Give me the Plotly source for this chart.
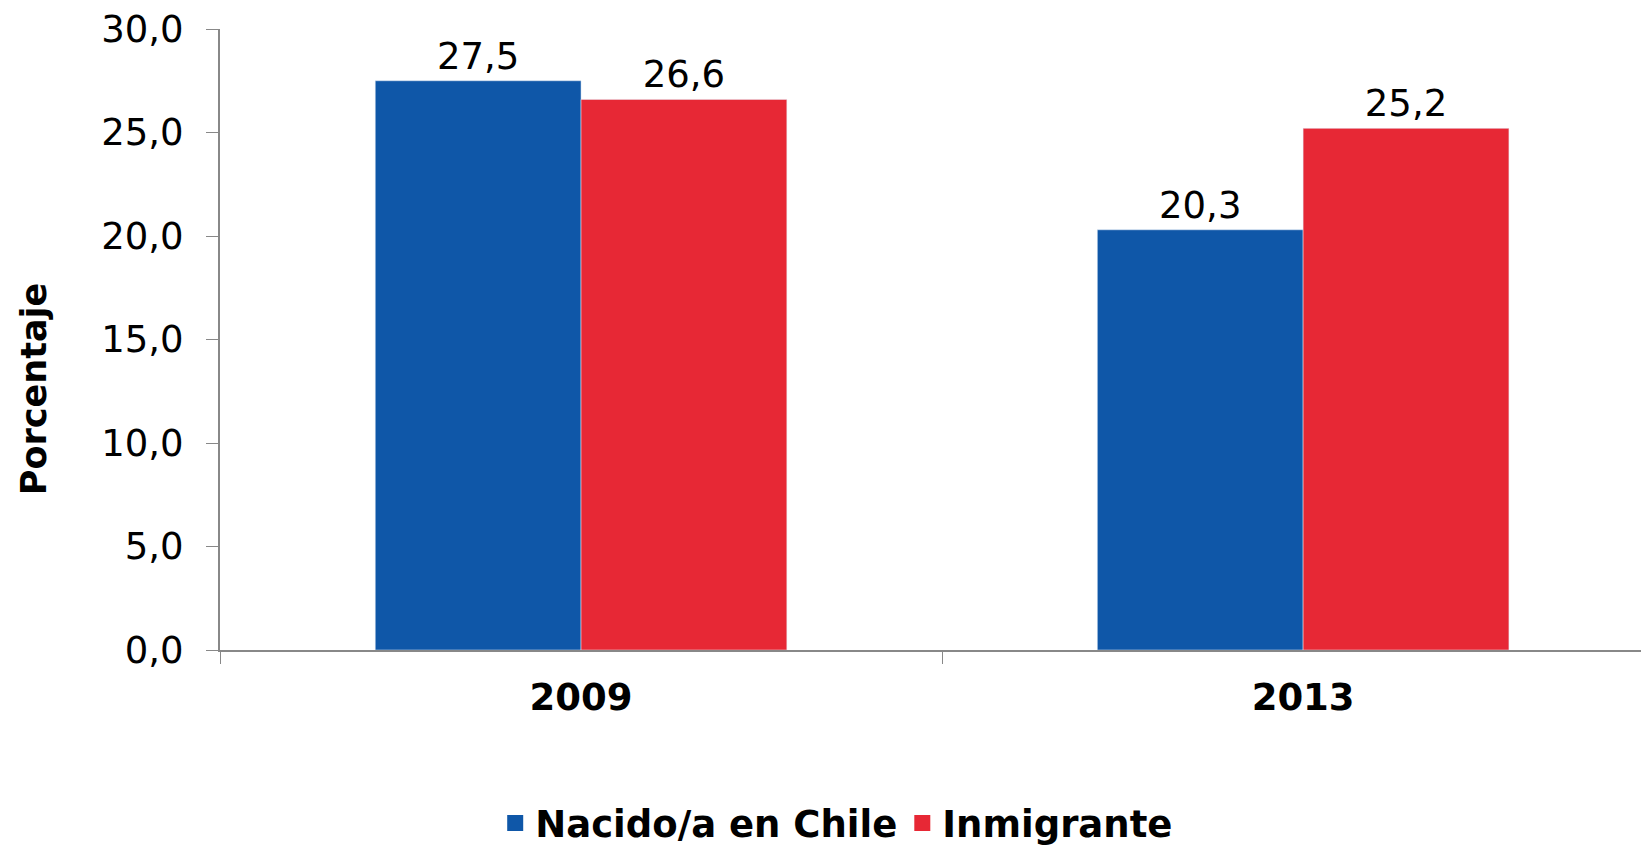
import plotly.graph_objects as go

# datos
years = ["2009", "2013"]
nacido = [27.5, 20.3]
inmigrante = [26.6, 25.2]
y_ticks = [0, 5, 10, 15, 20, 25, 30]

blue = "#0F57A8"
red = "#E72835"
font_main = "DejaVu Sans"

fig = go.Figure()
fig.add_trace(go.Bar(x=years, y=nacido, name="Nacido/a en Chile", marker_color=blue,
                     texttemplate="%{y:.1f}", textposition="outside", showlegend=False,
                     textfont=dict(size=37, color="black", family=font_main), cliponaxis=False))
fig.add_trace(go.Bar(x=years, y=inmigrante, name="Inmigrante", marker_color=red,
                     texttemplate="%{y:.1f}", textposition="outside", showlegend=False,
                     textfont=dict(size=37, color="black", family=font_main), cliponaxis=False))
# legend entries with bigger square swatches
for name, col in [("Nacido/a en Chile", blue), ("Inmigrante", red)]:
    fig.add_trace(go.Scatter(x=[None], y=[None], mode="markers", name=name,
                             marker=dict(symbol="square", size=21, color=col)))

# page has an 8px body margin, so the figure is a bit smaller than the window
fig.update_layout(
    width=1641, height=839,
    barmode="group", bargap=0.43, bargroupgap=0,
    separators=",.",
    plot_bgcolor="white", paper_bgcolor="white",
    margin=dict(l=212, r=0, t=21, b=197),
    font=dict(family=font_main, color="black"),
    showlegend=True,
    legend=dict(orientation="h", x=0.505, xanchor="center", xref="container",
                y=0.028, yanchor="middle", yref="container",
                font=dict(size=37, family=font_main, weight="bold"), itemwidth=30,
                traceorder="normal"),
)
fig.update_xaxes(type="category", range=[-0.5, 1.479], showline=True, linecolor="#888888", linewidth=2,
                 ticks="outside", tickson="boundaries", ticklen=12, tickcolor="#888888", automargin=False,
                 tickfont=dict(size=37, family=font_main, weight="bold"), ticklabelstandoff=14)
fig.update_yaxes(range=[0, 30], tickvals=y_ticks, tickformat=".1f", showgrid=False, zeroline=False,
                 showline=True, linecolor="#888888", linewidth=2, ticks="outside", ticklen=12,
                 tickcolor="#888888", tickfont=dict(size=37, family=font_main), ticklabelstandoff=15,
                 automargin=False, ticklabeloverflow="allow")

# y title sits a bit below the middle of the axis in the original
fig.add_annotation(text="<b>Porcentaje</b>", textangle=-90, xref="paper", yref="paper",
                   x=0, y=0.42, xanchor="center", yanchor="middle", xshift=-186, showarrow=False,
                   font=dict(size=35, family=font_main, color="black"))

fig.write_html("out.html")
